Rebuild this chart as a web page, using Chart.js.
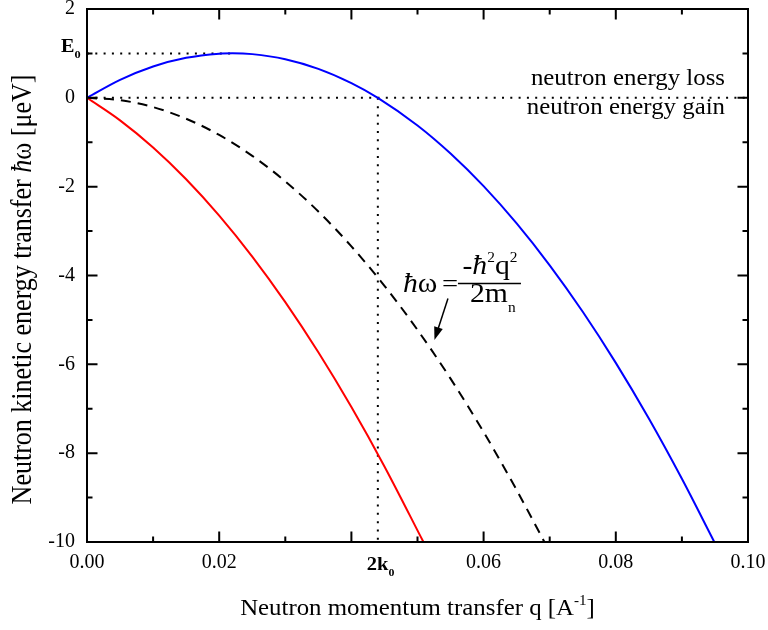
<!DOCTYPE html>
<html lang="en">
<head>
    <meta charset="UTF-8">
    <title>Neutron energy transfer</title>
    <script src="https://cdn.jsdelivr.net/npm/chart.js"></script>
    <style>
        body {
            margin: 0;
            background: #fff;
        }
        #wrap {
            width: 768px;
            height: 630px;
        }
    </style>
</head>
<body>
    <div id="wrap"><canvas id="transferChart"></canvas></div>

    <script>
        // momentum transfer q [1/A] and energy transfer [ueV] for each curve
        const qLoss = [0, 0.005, 0.01, 0.015, 0.02, 0.022, 0.025, 0.03, 0.035, 0.04, 0.044, 0.05, 0.055, 0.06, 0.065, 0.07, 0.075, 0.08, 0.085, 0.09, 0.0949];
        const wLoss = [0, 0.404, 0.705, 0.901, 0.995, 1.003, 0.984, 0.870, 0.653, 0.332, 0, -0.622, -1.254, -1.989, -2.828, -3.771, -4.817, -5.967, -7.221, -8.578, -10.0];

        const qGain = [0, 0.005, 0.01, 0.015, 0.02, 0.025, 0.03, 0.035, 0.04, 0.045, 0.0509];
        const wGain = [0, -0.508, -1.119, -1.834, -2.652, -3.574, -4.600, -5.729, -6.962, -8.298, -10.0];

        const qFree = [0, 0.005, 0.01, 0.015, 0.02, 0.025, 0.03, 0.035, 0.04, 0.045, 0.05, 0.055, 0.06, 0.065, 0.0692];
        const wFree = [0, -0.052, -0.209, -0.470, -0.836, -1.306, -1.881, -2.560, -3.344, -4.232, -5.225, -6.322, -7.524, -8.830, -10.0];

        // dotted guide lines
        const qZero = [0, 0.1];
        const wZero = [0, 0];
        const qE0 = [0, 0.022];
        const wE0 = [1, 1];
        const qK2 = [0.044, 0.044];
        const wK2 = [0, -10];

        // axis ticks and the two special marks
        const xTickValues = [0, 0.02, 0.06, 0.08, 0.1];
        const yTickValues = [2, 0, -2, -4, -6, -8, -10];
        const e0Value = 1;
        const twoK0Value = 0.044;

        const SERIF = "'Liberation Serif', 'Times New Roman', serif";

        const pts = (qs, ws) => qs.map((q, i) => ({ x: q, y: ws[i] }));

        function curve(data, color, dash) {
            return {
                data: data,
                borderColor: color,
                borderWidth: 2,
                borderDash: dash || [],
                pointRadius: 0,
                showLine: true,
                fill: false,
                cubicInterpolationMode: 'monotone'
            };
        }

        function dotted(data) {
            return {
                data: data,
                borderColor: '#000',
                borderWidth: 2,
                borderDash: [2, 6.3],
                pointRadius: 0,
                showLine: true,
                fill: false
            };
        }

        // text made of pieces with different fonts / offsets
        function runsWidth(ctx, runs) {
            let w = 0;
            runs.forEach(r => { ctx.font = r[1]; w += ctx.measureText(r[0]).width; });
            return w;
        }

        function drawRuns(ctx, runs, x, y, align, sx) {
            ctx.save();
            ctx.translate(x, y);
            ctx.scale(sx || 1, 1);
            const w = runsWidth(ctx, runs);
            let cx = align === 'center' ? -w / 2 : (align === 'right' ? -w : 0);
            ctx.textAlign = 'left';
            ctx.textBaseline = 'alphabetic';
            ctx.fillStyle = '#000';
            runs.forEach(r => {
                ctx.font = r[1];
                ctx.fillText(r[0], cx, r[2] || 0);
                cx += ctx.measureText(r[0]).width;
            });
            ctx.restore();
        }

        const decor = {
            id: 'decor',
            afterDraw(chart) {
                const { ctx, chartArea: a, scales: { x, y } } = chart;
                ctx.save();

                // frame with inward ticks on all four sides
                ctx.strokeStyle = '#000';
                ctx.lineWidth = 2;
                ctx.strokeRect(a.left, a.top, a.right - a.left, a.bottom - a.top);
                ctx.beginPath();
                for (let i = 0; i <= 10; i++) {
                    const px = x.getPixelForValue(i * 0.01);
                    const len = i % 2 ? 5.5 : 10.5;
                    ctx.moveTo(px, a.bottom); ctx.lineTo(px, a.bottom - len);
                    ctx.moveTo(px, a.top); ctx.lineTo(px, a.top + len);
                }
                for (let v = -10; v <= 2; v++) {
                    const py = y.getPixelForValue(v);
                    const len = v % 2 ? 5.5 : 10.5;
                    ctx.moveTo(a.left, py); ctx.lineTo(a.left + len, py);
                    ctx.moveTo(a.right, py); ctx.lineTo(a.right - len, py);
                }
                ctx.stroke();

                // E0 and 2k0 labels
                const e0y = y.getPixelForValue(e0Value);
                drawRuns(ctx, [['E', 'bold 18px ' + SERIF], ['0', 'bold 11px ' + SERIF, 6]], 61, e0y - 1, 'left', 1.12);
                const k2x = x.getPixelForValue(twoK0Value);
                drawRuns(ctx, [['2k', 'bold 19px ' + SERIF], ['0', 'bold 11px ' + SERIF, 6]], k2x - 11, a.bottom + 28, 'left', 1.08);

                // axis titles
                const cx = (a.left + a.right) / 2;
                drawRuns(ctx, [
                    ['Neutron momentum transfer q [A', '23px ' + SERIF],
                    ['-1', '14px ' + SERIF, -10],
                    [']', '23px ' + SERIF]
                ], cx, 615, 'center', 1.08);

                ctx.save();
                ctx.translate(31, (a.top + a.bottom) / 2 + 14);
                ctx.rotate(-Math.PI / 2);
                ctx.scale(1, 1.12);
                drawRuns(ctx, [
                    ['Neutron kinetic energy transfer ', '26px ' + SERIF],
                    ['\u0127', 'italic 26px ' + SERIF],
                    ['\u03c9 [\u03bceV]', '26px ' + SERIF]
                ], 0, 0, 'center', 1);
                ctx.restore();

                // loss / gain regions
                const zy = y.getPixelForValue(0);
                drawRuns(ctx, [['neutron energy loss', '23px ' + SERIF]], a.right - 23, zy - 13, 'right', 1.08);
                drawRuns(ctx, [['neutron energy gain', '23px ' + SERIF]], a.right - 23, zy + 16, 'right', 1.08);

                // free neutron dispersion formula
                const fx = x.getPixelForValue(0.0478);
                const fy = y.getPixelForValue(-4.37);
                drawRuns(ctx, [['\u0127', 'italic 27px ' + SERIF], ['\u03c9', '27px ' + SERIF]], fx, fy, 'left', 1.1);
                drawRuns(ctx, [['=', '26px ' + SERIF]], fx + 39, fy, 'left', 1.1);
                drawRuns(ctx, [
                    ['-', '27px ' + SERIF],
                    ['\u0127', 'italic 27px ' + SERIF],
                    ['2', '14px ' + SERIF, -12],
                    ['q', '27px ' + SERIF],
                    ['2', '14px ' + SERIF, -12]
                ], fx + 87, fy - 18, 'center', 1.1);
                ctx.lineWidth = 1.5;
                ctx.beginPath();
                ctx.moveTo(fx + 55, fy - 8.5);
                ctx.lineTo(fx + 118, fy - 8.5);
                ctx.stroke();
                drawRuns(ctx, [['2m', '27px ' + SERIF], ['n', '14px ' + SERIF, 10]], fx + 67, fy + 10.5, 'left', 1.1);

                // arrow pointing at the dashed curve
                const ax0 = fx + 45, ay0 = fy + 6.5;
                const ax1 = fx + 31.5, ay1 = fy + 48;
                const ang = Math.atan2(ay1 - ay0, ax1 - ax0);
                ctx.lineWidth = 1.5;
                ctx.beginPath();
                ctx.moveTo(ax0, ay0);
                ctx.lineTo(ax1 - 10 * Math.cos(ang), ay1 - 10 * Math.sin(ang));
                ctx.stroke();
                ctx.beginPath();
                ctx.moveTo(ax1, ay1);
                ctx.lineTo(ax1 - 13 * Math.cos(ang) + 4.5 * Math.sin(ang), ay1 - 13 * Math.sin(ang) - 4.5 * Math.cos(ang));
                ctx.lineTo(ax1 - 13 * Math.cos(ang) - 4.5 * Math.sin(ang), ay1 - 13 * Math.sin(ang) + 4.5 * Math.cos(ang));
                ctx.closePath();
                ctx.fillStyle = '#000';
                ctx.fill();

                ctx.restore();
            }
        };

        // keep the plot area fixed: no extra room for half tick labels
        function fixX(s) {
            s.height = 88;
            s.paddingLeft = 0;
            s.paddingRight = 0;
        }
        function fixY(s) {
            s.width = 87;
            s.paddingTop = 0;
            s.paddingBottom = 0;
        }

        const ctx = document.getElementById('transferChart').getContext('2d');
        const transferChart = new Chart(ctx, {
            type: 'scatter',
            data: {
                datasets: [
                    curve(pts(qLoss, wLoss), '#0000ff'),
                    curve(pts(qGain, wGain), '#ff0000'),
                    curve(pts(qFree, wFree), '#000000', [10, 7]),
                    dotted(pts(qZero, wZero)),
                    dotted(pts(qE0, wE0)),
                    dotted(pts(qK2, wK2))
                ]
            },
            options: {
                responsive: true,
                maintainAspectRatio: false,
                animation: false,
                events: [],
                layout: { padding: { top: 9, right: 20, left: 0, bottom: 0 } },
                plugins: {
                    legend: { display: false },
                    tooltip: { enabled: false }
                },
                scales: {
                    x: {
                        type: 'linear',
                        min: 0,
                        max: 0.1,
                        grid: { display: false, drawTicks: false },
                        border: { display: false },
                        afterBuildTicks: s => { s.ticks = xTickValues.map(v => ({ value: v })); },
                        afterFit: fixX,
                        ticks: {
                            padding: 9,
                            color: '#000',
                            font: { family: SERIF, size: 20 },
                            maxRotation: 0,
                            callback: v => v.toFixed(2)
                        }
                    },
                    y: {
                        type: 'linear',
                        min: -10,
                        max: 2,
                        grid: { display: false, drawTicks: false },
                        border: { display: false },
                        afterBuildTicks: s => { s.ticks = yTickValues.map(v => ({ value: v })); },
                        afterFit: fixY,
                        ticks: {
                            padding: 12,
                            color: '#000',
                            font: { family: SERIF, size: 20 },
                            callback: v => String(v)
                        }
                    }
                }
            },
            plugins: [decor]
        });
    </script>
</body>
</html>
